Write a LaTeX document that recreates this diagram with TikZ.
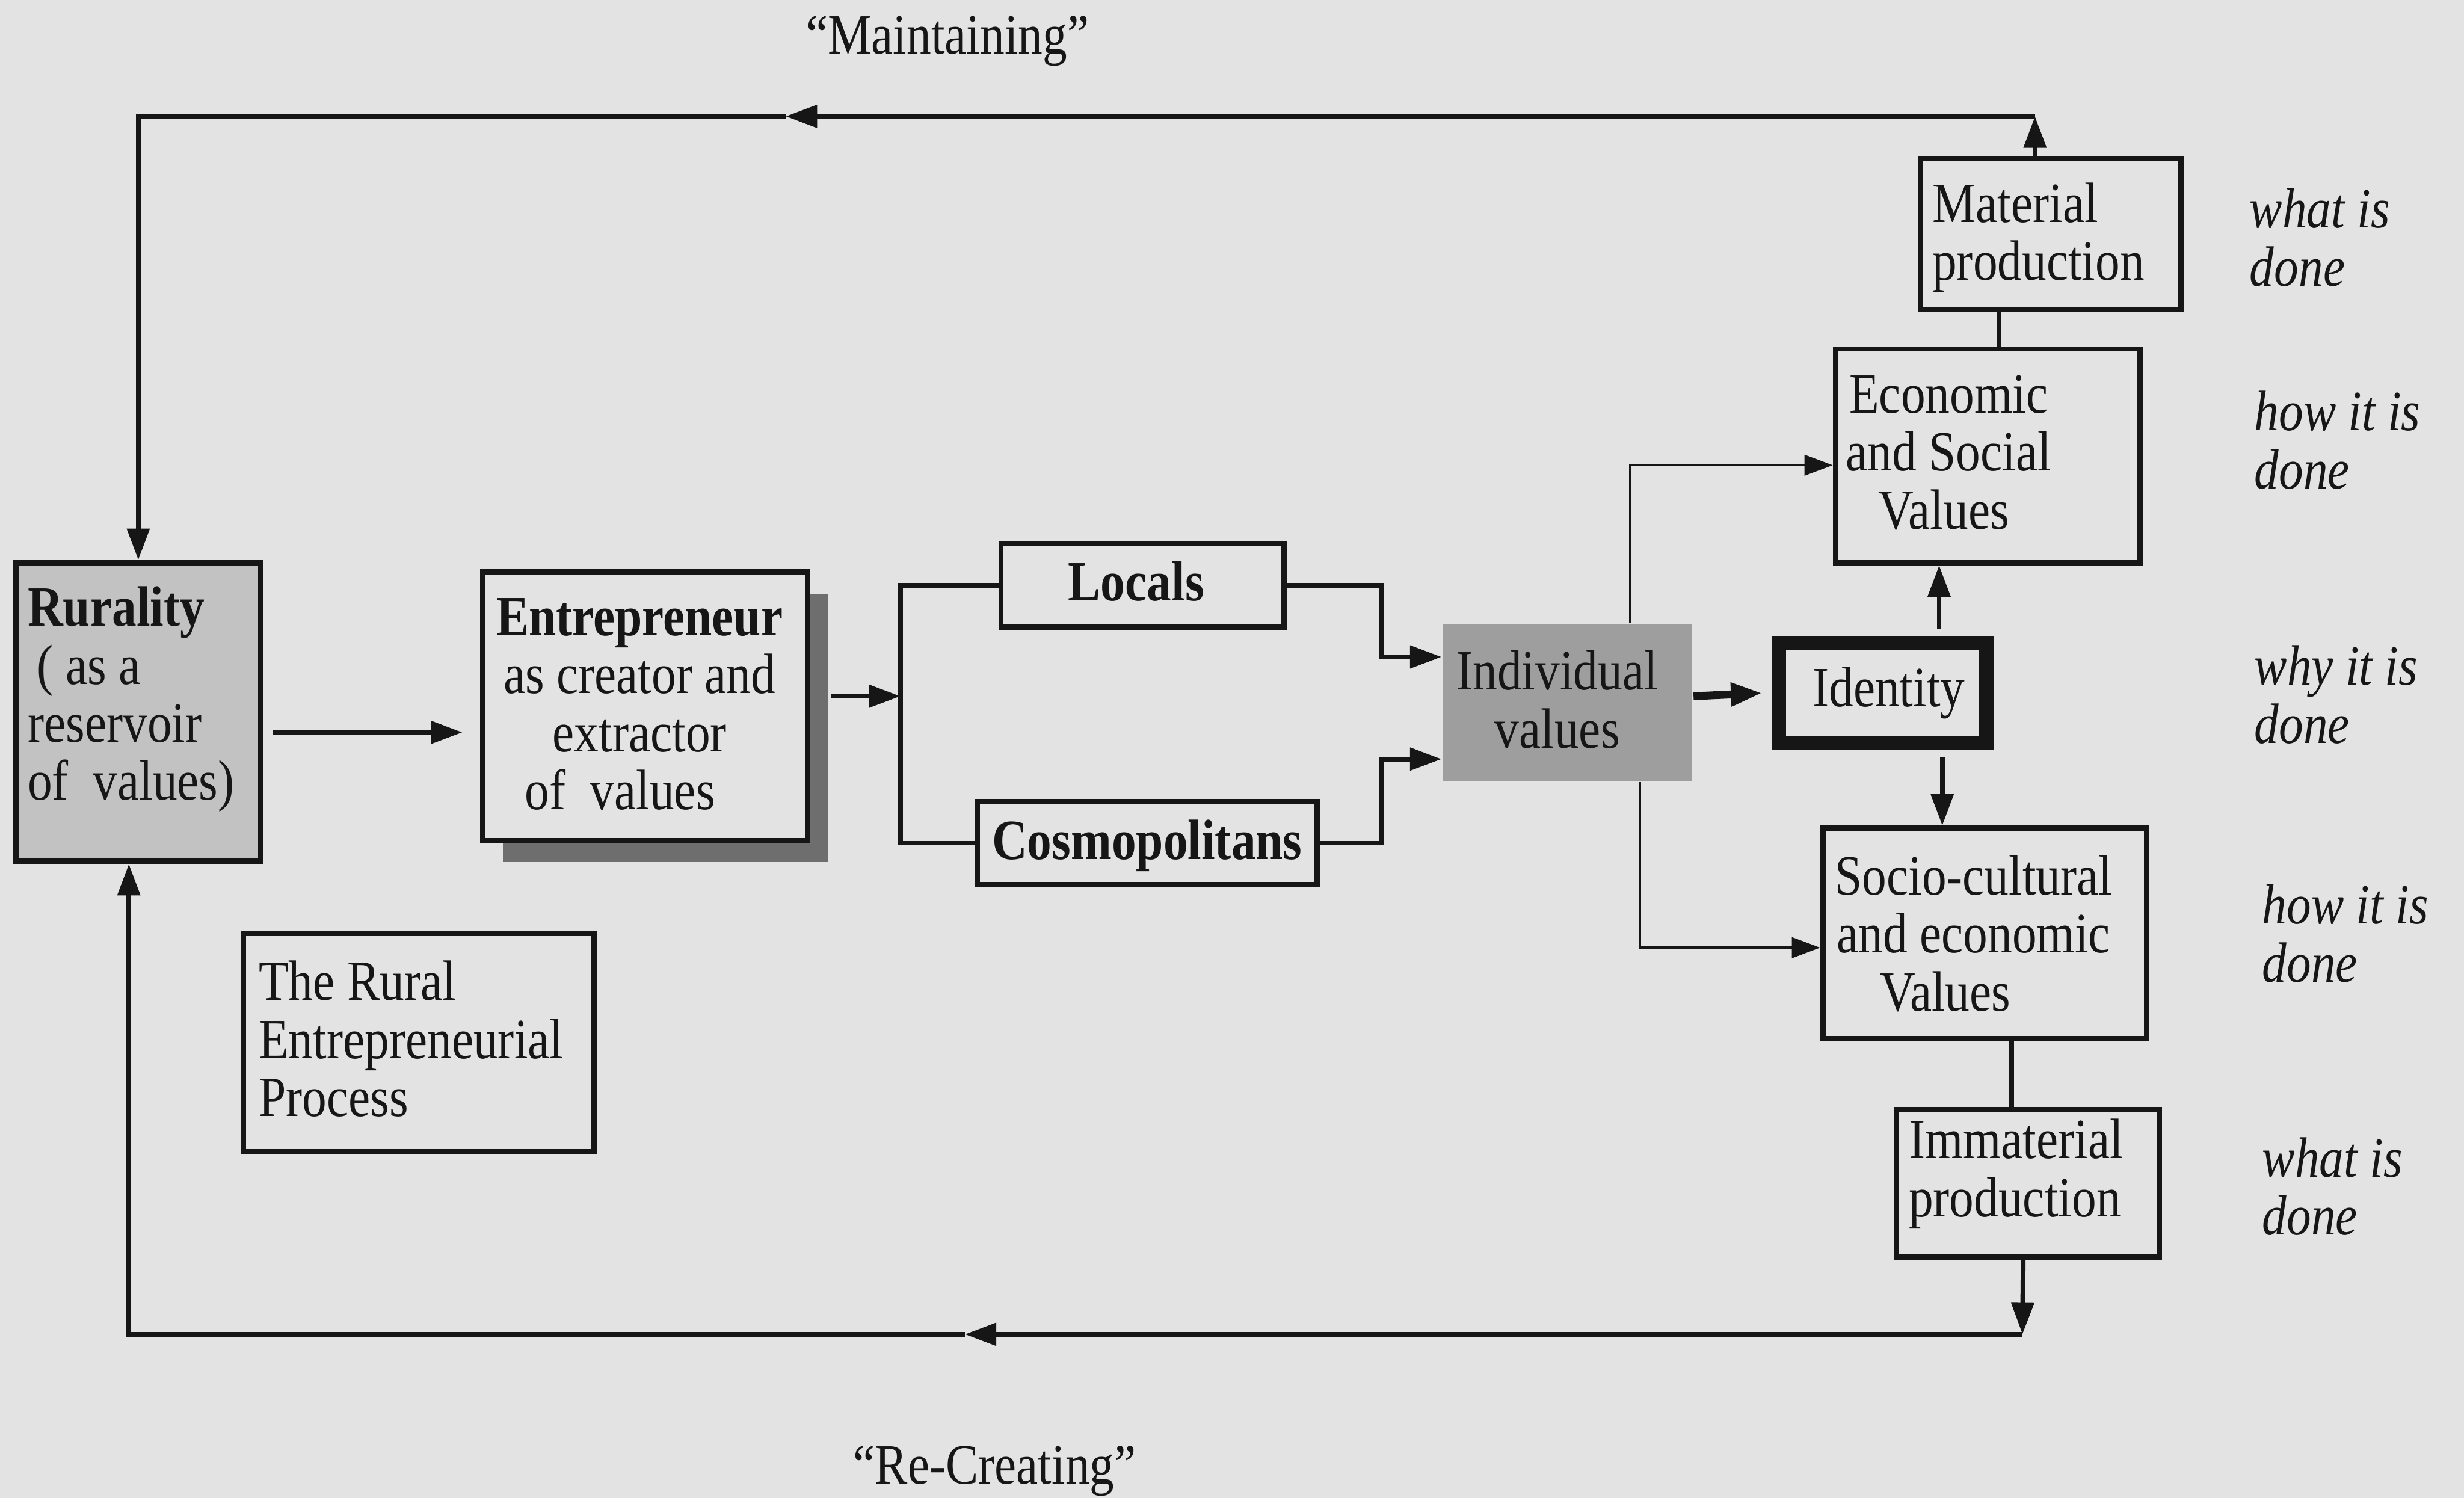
\documentclass[tikz,border=0pt]{standalone}
\usepackage{fontspec}
\setmainfont[FakeStretch=0.86]{Liberation Serif}
\usetikzlibrary{arrows.meta,fit,calc}

\definecolor{paper}{HTML}{E3E3E3}
\definecolor{rurfill}{HTML}{C2C2C2}
\definecolor{indfill}{HTML}{9E9E9E}
\definecolor{shade}{HTML}{6E6E6E}
\definecolor{ink}{HTML}{161616}

\newcommand\figfont{\fontsize{10.3pt}{10.5pt}\selectfont\lineskiplimit=-100pt\relax}

\tikzset{
  box/.style={draw=ink, line width=0.034cm, inner sep=0pt},
  txt/.style={inner sep=0pt, text=ink, font=\figfont},
  itxt/.style={txt, font=\figfont\itshape, anchor=west, align=left},
  arr/.style={draw=ink, line width=0.03cm, -{Triangle[length=0.2cm,width=0.14cm]}},
  link/.style={draw=ink, line width=0.03cm},
  thinarr/.style={draw=ink, line width=0.016cm, -{Triangle[length=0.18cm,width=0.13cm]}},
}

\begin{document}
\begin{tikzpicture}[x=0.01cm, y=-0.01cm]
  % page
  \fill[paper] (0,0) rectangle (1568,953);
  \useasboundingbox (0,0) rectangle (1568,953);

  % ---- boxes ----
  \node[box, fill=rurfill, fit={(10,358) (166,548)}] (rur) {};
  \node[fill=shade, inner sep=0pt, fit={(320,378) (527,548)}] (entsh) {};
  \node[box, fill=paper, fit={(307,364) (514,535)}] (ent) {};
  \node[box, fit={(637,346) (817,399)}] (loc) {};
  \node[box, fit={(622,510) (838,563)}] (cos) {};
  \node[fill=indfill, inner sep=0pt, fit={(918,397) (1077,497)}] (ind) {};
  \node[draw=ink, line width=0.09cm, inner sep=0pt, fit={(1132,409) (1264,473)}] (idt) {};
  \node[box, fit={(1168,222) (1362,358)}] (econ) {};
  \node[box, fit={(1222,101) (1388,197)}] (mat) {};
  \node[box, fit={(1160,527) (1366,661)}] (soc) {};
  \node[box, fit={(1207,706) (1374,800)}] (imm) {};
  \node[box, fit={(155,594) (378,733)}] (rep) {};

  % ---- box texts ----
  \node[txt, anchor=west, align=left] (rur-t) at (17,445)
    {\textbf{Rurality}\\\hspace*{0.06cm}( as a\\reservoir\\of~~values)};
  \node[txt, align=center] (ent-t) at (407,448)
    {\textbf{Entrepreneur}\\as creator and\\extractor\\of~~values\hspace*{0.25cm}};
  \node[txt] (loc-t) at (723,370) {\textbf{Locals}};
  \node[txt] (cos-t) at (730,538) {\textbf{Cosmopolitans}};
  \node[txt, align=center] (ind-t) at (991,445) {Individual\\values};
  \node[txt] (idt-t) at (1202,441) {Identity};
  \node[txt, anchor=west, align=center] (econ-t) at (1174,288)
    {Economic\\and Social\\Values\hspace*{0.06cm}};
  \node[txt, anchor=west, align=left] (mat-t) at (1229,151)
    {Material\\production};
  \node[txt, anchor=west, align=center] (soc-t) at (1167,594)
    {Socio-cultural\\and economic\\Values\hspace*{0.36cm}};
  \node[txt, anchor=west, align=left] (imm-t) at (1214,747)
    {Immaterial\\production};
  \node[txt, anchor=west, align=left] (rep-t) at (164,661)
    {The Rural\\Entrepreneurial\\Process};

  % ---- side labels ----
  \node[itxt] (l1) at (1431,151) {what is\\done};
  \node[itxt] (l2) at (1434,280) {how it is\\done};
  \node[itxt] (l3) at (1434,442) {why it is\\done};
  \node[itxt] (l4) at (1439,594) {how it is\\done};
  \node[itxt] (l5) at (1439,755) {what is\\done};

  \node[txt] (maint) at (603,26) {“Maintaining”};
  \node[txt] (recr) at (633,936) {“Re-Creating”};

  % ---- connectors ----
  \draw[arr] ([shift={(6,13)}]rur.east) -- ([shift={(-11,16.5)}]ent.west);

  \coordinate (sp) at (573,443);
  \draw[arr] ([shift={(13,-6.5)}]ent.east) -- (sp);
  \draw[link] (loc.west) -| (sp) |- (cos.west);

  \draw[arr] (loc.east) -| ([shift={(-38,-29)}]ind.west) -- ([shift={(0,-29)}]ind.west);
  \draw[arr] (cos.east) -| ([shift={(-38,36)}]ind.west) -- ([shift={(0,36)}]ind.west);

  \draw[arr, line width=0.05cm] ([shift={(0,-4)}]ind.east) -- ([shift={(-6,0)}]idt.west);

  \draw[thinarr] ([shift={(40,0)}]ind.north) |- ([shift={(0,6)}]econ.west);
  \draw[thinarr] ([shift={(46,0)}]ind.south) |- ([shift={(0,9)}]soc.west);

  \draw[arr] ([shift={(36,-4)}]idt.north) -- ([shift={(36,0)}]idt.north |- econ.south);
  \draw[arr] ([shift={(38,4)}]idt.south) -- ([shift={(38,0)}]idt.south |- soc.north);

  \draw[link] ([shift={(7,0)}]econ.north) -- ([shift={(7,0)}]econ.north |- mat.south);
  \draw[link] ([shift={(17,0)}]soc.south) -- ([shift={(17,0)}]soc.south |- imm.north);

  % "Maintaining" loop
  \coordinate (tr) at (1295,74);
  \coordinate (tm) at (500,74);
  \draw[arr] ([shift={(-10,0)}]mat.north) -- (tr);
  \draw[arr] (tr) -- (tm);
  \draw[arr] (tm) -| (rur.north);

  % "Re-Creating" loop
  \coordinate (br) at (1287,849);
  \coordinate (bm) at (614,849);
  \draw[arr] ([shift={(-3,0)}]imm.south) -- (br);
  \draw[arr] (br) -- (bm);
  \draw[arr] (bm) -| ([shift={(-6,0)}]rur.south);
\end{tikzpicture}
\end{document}
